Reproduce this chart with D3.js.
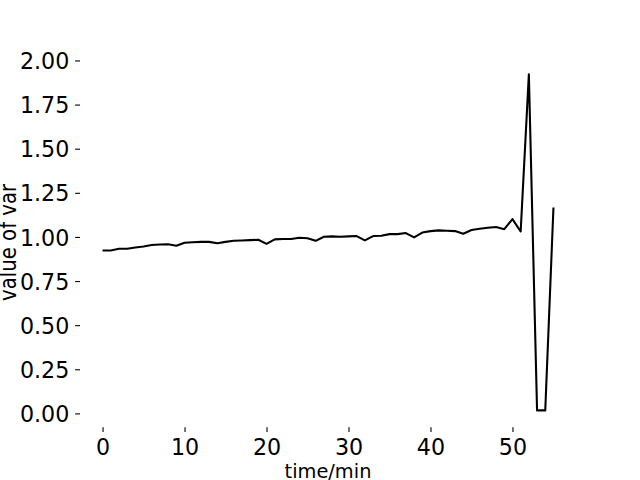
<!DOCTYPE html>
<html>
<head>
<meta charset="utf-8">
<script src="https://cdn.jsdelivr.net/npm/d3@7"></script>
<style>
  body { margin: 0; background: #fff; }
  svg text { font-family: "DejaVu Sans", sans-serif; fill: #000; }
</style>
</head>
<body>
<div id="chart"></div>
<script>
// time in minutes and the measured variance
const timeMin = [0, 1, 2, 3, 4, 5, 6, 7, 8, 9,
  10, 11, 12, 13, 14, 15, 16, 17, 18, 19,
  20, 21, 22, 23, 24, 25, 26, 27, 28, 29,
  30, 31, 32, 33, 34, 35, 36, 37, 38, 39,
  40, 41, 42, 43, 44, 45, 46, 47, 48, 49,
  50, 51, 52, 53, 54, 55];
const varValues = [0.923, 0.923, 0.933, 0.933, 0.940, 0.946, 0.954, 0.957, 0.959, 0.950,
  0.967, 0.970, 0.972, 0.972, 0.964, 0.972, 0.978, 0.980, 0.982, 0.984,
  0.961, 0.986, 0.988, 0.988, 0.995, 0.993, 0.978, 1.001, 1.003, 1.001,
  1.003, 1.005, 0.980, 1.005, 1.007, 1.016, 1.016, 1.022, 0.997, 1.025,
  1.033, 1.037, 1.035, 1.033, 1.018, 1.039, 1.046, 1.052, 1.056, 1.044,
  1.101, 1.031, 1.921, 0.017, 0.017, 1.167];
const xTicks = [0, 10, 20, 30, 40, 50];
const yTicks = [0, 0.25, 0.5, 0.75, 1.0, 1.25, 1.5, 1.75, 2.0];

const widthSvg = 640, heightSvg = 480;
const margin = {top: 57.6, right: 64, bottom: 52.8, left: 80};
const width = widthSvg - margin.left - margin.right;
const height = heightSvg - margin.top - margin.bottom;

const svg = d3.select("#chart").append("svg")
  .attr("width", widthSvg)
  .attr("height", heightSvg);

const g = svg.append("g")
  .attr("transform", "translate(" + margin.left + "," + margin.top + ")");

// matplotlib style 5% padding around the data
function padded(ext) {
  const p = (ext[1] - ext[0]) * 0.05;
  return [ext[0] - p, ext[1] + p];
}

const x = d3.scaleLinear().domain(padded(d3.extent(timeMin))).range([0, width]);
const y = d3.scaleLinear().domain(padded(d3.extent(varValues))).range([height, 0]);

const tickLen = 4.86, tickPad = 4.86;

const xAxis = g.append("g")
  .attr("transform", "translate(0," + height + ")")
  .call(d3.axisBottom(x).tickValues(xTicks).tickSize(tickLen).tickPadding(tickPad));
xAxis.select(".domain").remove();
xAxis.selectAll("line").attr("stroke", "#000").attr("stroke-width", 1.1);
xAxis.selectAll("text")
  .attr("font-size", "22.2px")
  .attr("dy", null)
  .attr("y", 455 - margin.top - height);

const yAxis = g.append("g")
  .call(d3.axisLeft(y).tickValues(yTicks).tickFormat(d3.format(".2f")).tickSize(tickLen).tickPadding(tickPad + 1));
yAxis.select(".domain").remove();
yAxis.selectAll("line").attr("stroke", "#000").attr("stroke-width", 1.1);
yAxis.selectAll("text")
  .attr("font-size", "22.2px")
  .attr("dy", "0.365em");

// axis labels
svg.append("text")
  .attr("x", margin.left + width / 2)
  .attr("y", 478)
  .attr("text-anchor", "middle")
  .attr("font-size", "19.4px")
  .text("time/min");

// the reference y label sits hard against the left edge and looks a bit stretched
svg.append("text")
  .attr("transform", "translate(15.5," + (margin.top + height / 2) + ") rotate(-90) scale(1,1.2)")
  .attr("text-anchor", "middle")
  .attr("font-size", "19.7px")
  .text("value of var");

const line = d3.line()
  .x(function(d, i) { return x(timeMin[i]); })
  .y(function(d) { return y(d); });

g.append("path")
  .datum(varValues)
  .attr("fill", "none")
  .attr("stroke", "#000")
  .attr("stroke-width", 2.08)
  .attr("stroke-linejoin", "round")
  .attr("d", line);
</script>
</body>
</html>
